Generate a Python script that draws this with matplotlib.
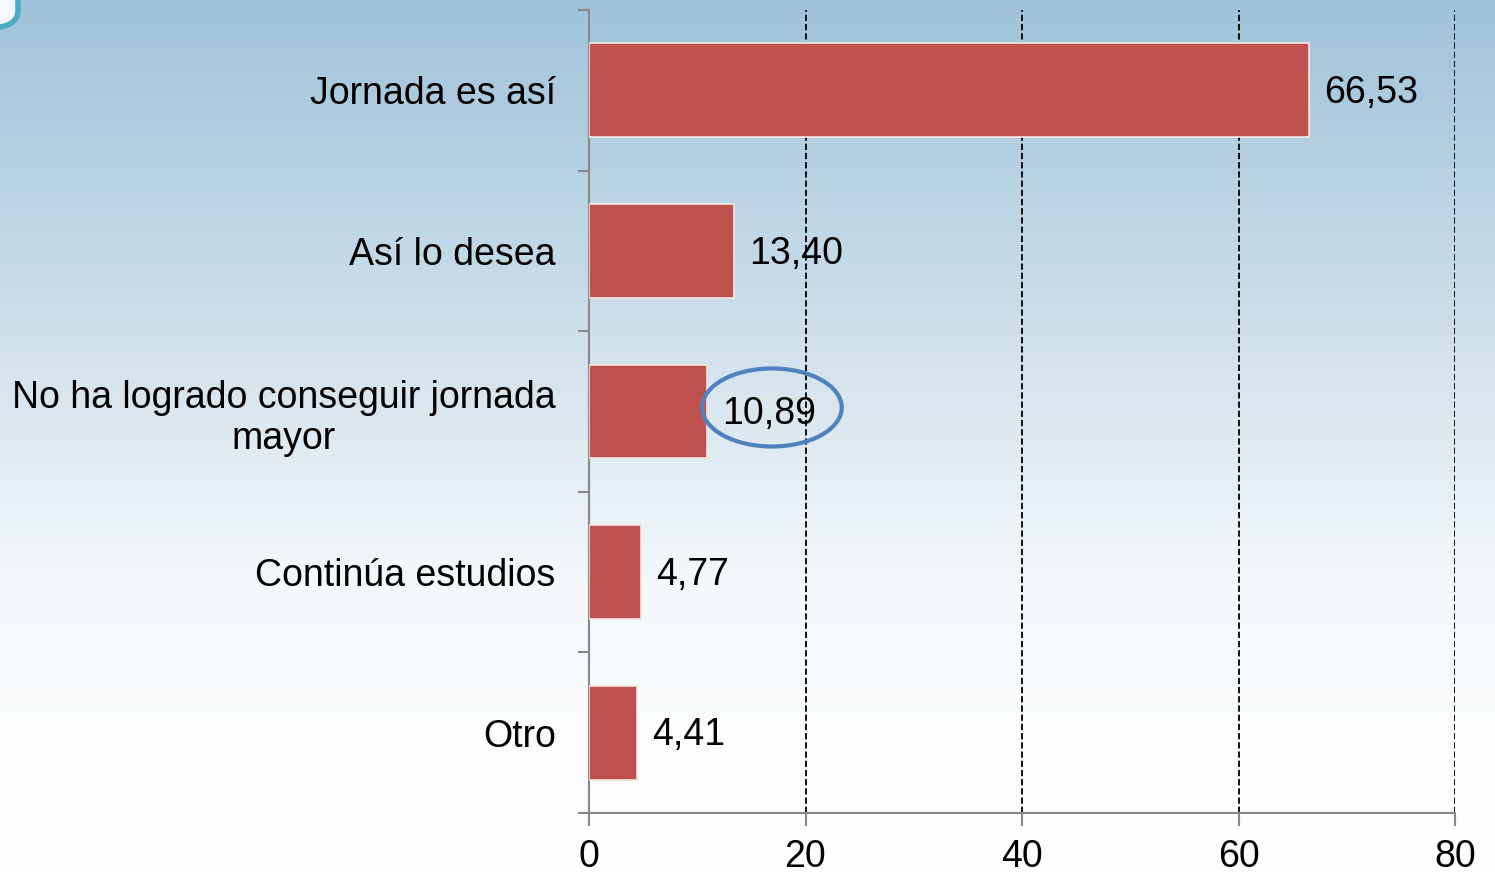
import numpy as np
import matplotlib
matplotlib.use("Agg")
import matplotlib.pyplot as plt
from matplotlib.patches import Ellipse, FancyBboxPatch
from matplotlib.colors import LinearSegmentedColormap

categories = ["Jornada es así", "Así lo desea", "No ha logrado conseguir jornada\nmayor",
              "Continúa estudios", "Otro"]
values = [66.53, 13.40, 10.89, 4.77, 4.41]
labels = ["66,53", "13,40", "10,89", "4,77", "4,41"]
xticks = [0, 20, 40, 60, 80]

plt.rcParams['font.family'] = ['Liberation Sans', 'DejaVu Sans']

fig = plt.figure(figsize=(14.95, 8.75), dpi=100)

# background gradient
bg = fig.add_axes([0, 0, 1, 1], zorder=-10)
cmap = LinearSegmentedColormap.from_list("bg", ["#ffffff", "#f4f8fb", "#c9dce8", "#9fc3da"])
grad = np.linspace(0, 1, 256).reshape(-1, 1)
bg.imshow(grad, aspect="auto", cmap=cmap, origin="lower", extent=[0, 1, 0, 1])
bg.axis("off")

# corner box in top-left
box = FancyBboxPatch((-40 / 1495, 1 - 28 / 875), 58 / 1495, 60 / 875,
                     boxstyle="round,pad=0,rounding_size=0.02",
                     transform=fig.transFigure, facecolor="#f5f9fd", edgecolor="#4bacc6",
                     linewidth=4, zorder=-5)
fig.patches.append(box)

ax = fig.add_axes([589 / 1495, 1 - 813 / 875, (1455 - 589) / 1495, (813 - 10) / 875])
ax.patch.set_alpha(0)

y = np.arange(len(categories))
ax.barh(y, values, height=0.585, color="#c0504d", edgecolor="#f2e8e0", linewidth=1.2, zorder=3)

for yi, v, lab in zip(y, values, labels):
    ax.annotate(lab, (v, yi), xytext=(11, -2), textcoords="offset points",
                va="center", ha="left", fontsize=27, color="black", zorder=5)

ax.set_xlim(0, 80)
ax.set_ylim(4.5, -0.5)
ax.set_xticks(xticks)
ax.set_xticklabels([str(t) for t in xticks], fontsize=27)
ax.tick_params(axis="x", length=9, width=1.5, color="#888888", pad=10)

ax.set_yticks(np.arange(-0.5, 5, 1))
ax.set_yticklabels([])
ax.set_yticks(y, minor=True)
ax.set_yticklabels(categories, minor=True, fontsize=27)
ax.tick_params(axis="y", which="major", length=8, width=1.5, color="#888888")
ax.tick_params(axis="y", which="minor", length=0, pad=24)
for t in ax.get_yticklabels(minor=True):
    t.set_multialignment("center")

for x in xticks[1:]:
    ax.axvline(x, color="black", linestyle=(0, (3.5, 1.6)), linewidth=1.3, zorder=2)

for s in ["top", "right"]:
    ax.spines[s].set_visible(False)
for s in ["left", "bottom"]:
    ax.spines[s].set_color("#888888")
    ax.spines[s].set_linewidth(1.5)

ell = Ellipse((16.9, 1.975), 12.9, 0.486, fill=False, edgecolor="#4f81bd", linewidth=3, zorder=6)
ax.add_patch(ell)

fig.savefig("out.png", dpi=100)
